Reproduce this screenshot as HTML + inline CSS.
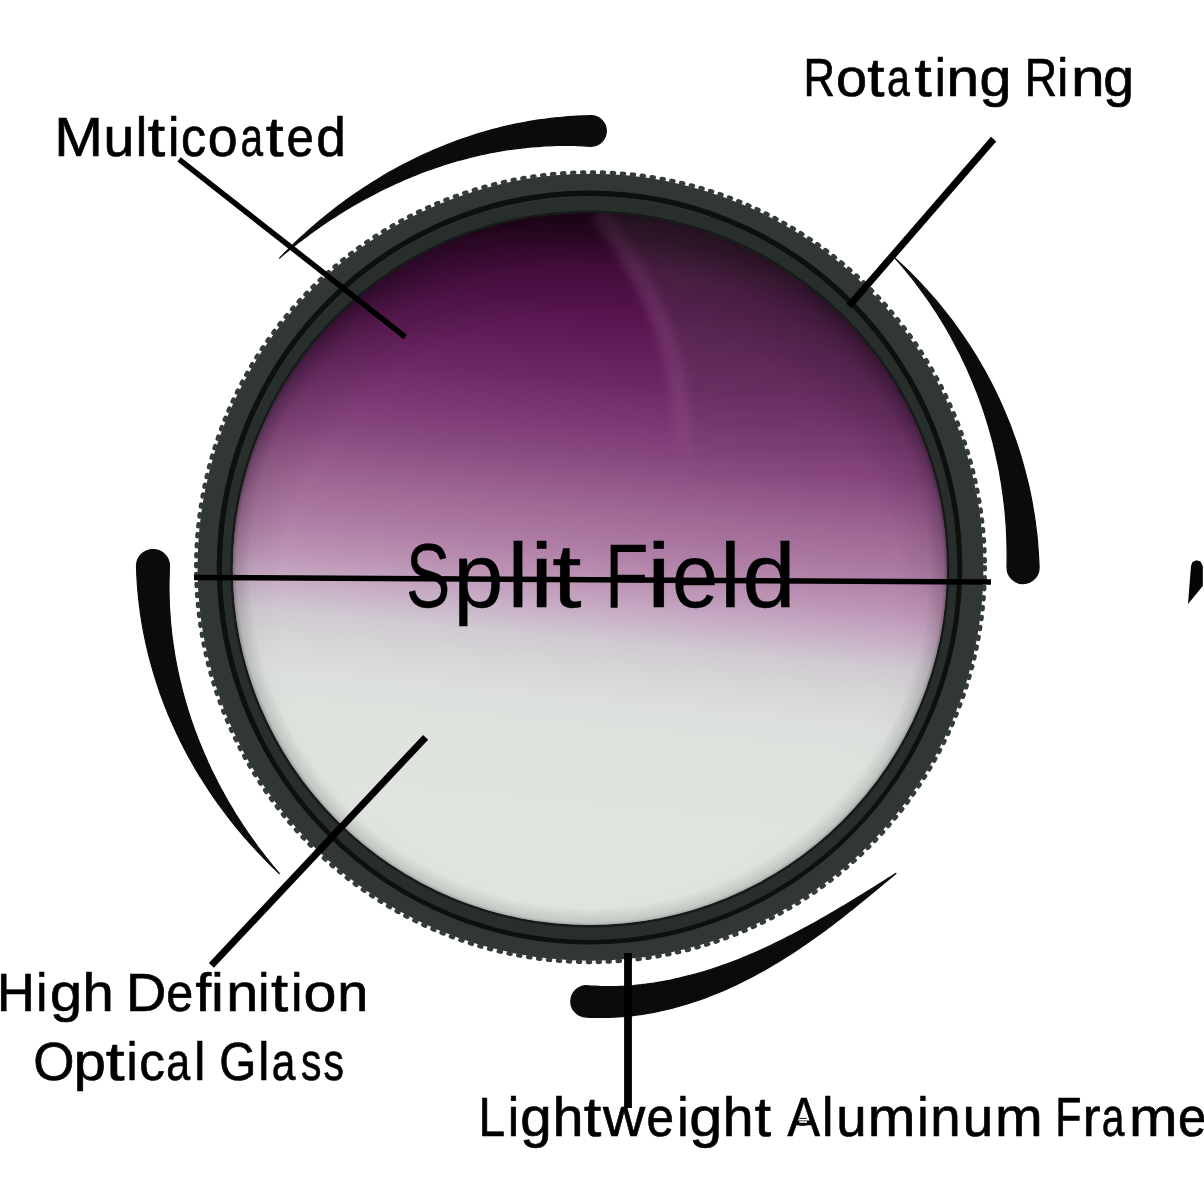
<!DOCTYPE html>
<html><head><meta charset="utf-8"><style>
html,body{margin:0;padding:0;background:#fff;}
body{width:1204px;height:1204px;overflow:hidden;position:relative;}
svg{position:absolute;left:0;top:0;will-change:transform;}
text{font-family:"Liberation Sans",sans-serif;fill:#000;stroke:#000;stroke-width:0.7px;}
text.big{stroke-width:0.3px;}
</style></head><body>
<svg width="1204" height="1204" viewBox="0 0 1204 1204">
<defs>
<linearGradient id="glass" x1="0" y1="212" x2="0" y2="925" gradientUnits="userSpaceOnUse" gradientTransform="rotate(5.4 590 568)">
<stop offset="0" stop-color="#2a0822"/>
<stop offset="0.03" stop-color="#340a2c"/>
<stop offset="0.06" stop-color="#440c3a"/>
<stop offset="0.1" stop-color="#4e1046"/>
<stop offset="0.125" stop-color="#52124a"/>
<stop offset="0.18" stop-color="#5e1c56"/>
<stop offset="0.237" stop-color="#6c2864"/>
<stop offset="0.335" stop-color="#86467e"/>
<stop offset="0.405" stop-color="#9c6492"/>
<stop offset="0.468" stop-color="#ae7ca4"/>
<stop offset="0.517" stop-color="#bc94b4"/>
<stop offset="0.552" stop-color="#c6aac4"/>
<stop offset="0.6" stop-color="#d0cad2"/>
<stop offset="0.64" stop-color="#d6d6d6"/>
<stop offset="0.685" stop-color="#dcdfdc"/>
<stop offset="0.74" stop-color="#dee3de"/>
<stop offset="1" stop-color="#e0e5e0"/>
</linearGradient>
<radialGradient id="vig" cx="589.8" cy="600" r="400" gradientUnits="userSpaceOnUse" gradientTransform="translate(589.8 600) scale(1 0.93) translate(-589.8 -600)">
<stop offset="0.78" stop-color="#000" stop-opacity="0"/>
<stop offset="0.9" stop-color="#000" stop-opacity="0.1"/>
<stop offset="0.99" stop-color="#000" stop-opacity="0.33"/>
</radialGradient>
<radialGradient id="vig2" cx="589.8" cy="569" r="357" gradientUnits="userSpaceOnUse">
<stop offset="0.95" stop-color="#000" stop-opacity="0"/>
<stop offset="0.99" stop-color="#000" stop-opacity="0.12"/>
<stop offset="1" stop-color="#000" stop-opacity="0.3"/>
</radialGradient>
<linearGradient id="vmg" x1="0" y1="212" x2="0" y2="925" gradientUnits="userSpaceOnUse">
<stop offset="0" stop-color="#fff"/>
<stop offset="0.45" stop-color="#fff"/>
<stop offset="0.62" stop-color="#444"/>
<stop offset="1" stop-color="#222"/>
</linearGradient>
<mask id="vmask" maskUnits="userSpaceOnUse" x="0" y="0" width="1204" height="1204"><rect x="0" y="0" width="1204" height="1204" fill="url(#vmg)"/></mask>
<clipPath id="gclip"><ellipse cx="589.8" cy="569" rx="357" ry="356"/></clipPath>
<linearGradient id="desat" x1="0" y1="205" x2="0" y2="480" gradientUnits="userSpaceOnUse">
<stop offset="0" stop-color="#5a4858" stop-opacity="0.4"/>
<stop offset="0.6" stop-color="#5a4858" stop-opacity="0.25"/>
<stop offset="1" stop-color="#5a4858" stop-opacity="0"/>
</linearGradient>
<linearGradient id="bandg" x1="0" y1="212" x2="0" y2="500" gradientUnits="userSpaceOnUse">
<stop offset="0" stop-color="#9a5a90" stop-opacity="0.3"/>
<stop offset="0.7" stop-color="#9a5a90" stop-opacity="0.25"/>
<stop offset="1" stop-color="#9a5a90" stop-opacity="0"/>
</linearGradient>
<filter id="b8" x="-20%" y="-20%" width="140%" height="140%"><feGaussianBlur stdDeviation="9"/></filter>
<filter id="b5" x="-20%" y="-20%" width="140%" height="140%"><feGaussianBlur stdDeviation="4"/></filter>
<filter id="b6" x="-20%" y="-20%" width="140%" height="140%"><feGaussianBlur stdDeviation="7"/></filter>
<filter id="b3" x="-20%" y="-20%" width="140%" height="140%"><feGaussianBlur stdDeviation="3"/></filter>
</defs>
<!-- ring -->
<ellipse cx="590.5" cy="567.2" rx="393" ry="393.5" fill="#303734"/>
<ellipse cx="590.5" cy="567.2" rx="394.3" ry="394.8" fill="none" stroke="#343b38" stroke-width="4.4" stroke-linecap="round" stroke-dasharray="2.2 7.8"/>
<ellipse cx="589.5" cy="567.5" rx="370" ry="374.3" fill="none" stroke="#0c100f" stroke-width="5.5"/>
<ellipse cx="589.8" cy="568.5" rx="367.5" ry="371.5" fill="#282e2b"/>
<ellipse cx="589.8" cy="569" rx="359.5" ry="358.5" fill="#161a18"/>
<ellipse cx="589.8" cy="569" rx="357" ry="356" fill="url(#glass)"/>
<g clip-path="url(#gclip)">
<path d="M600,205 C632,255 668,310 680,390 C690,450 688,520 690,560 L960,560 L960,205 Z" fill="url(#desat)" filter="url(#b8)"/>
<path d="M598,212 C630,256 666,312 678,390 C685,440 686,470 686,500" fill="none" stroke="url(#bandg)" stroke-width="18" filter="url(#b5)"/>
<g mask="url(#vmask)"><ellipse cx="589.8" cy="569" rx="357" ry="356" fill="url(#vig)"/></g>
<ellipse cx="589.8" cy="569" rx="357" ry="356" fill="url(#vig2)"/>
</g>
<!-- swooshes -->
<path d="M279.7,258.0 L282.7,254.8 L285.8,251.7 L288.9,248.6 L292.0,245.6 L295.2,242.5 L298.4,239.5 L301.6,236.5 L304.9,233.6 L308.1,230.6 L311.4,227.7 L314.7,224.9 L318.1,222.0 L321.5,219.2 L324.9,216.4 L328.3,213.7 L331.7,210.9 L335.2,208.2 L338.7,205.6 L342.3,202.9 L345.8,200.3 L349.4,197.8 L353.0,195.2 L356.6,192.7 L360.3,190.2 L364.0,187.8 L367.7,185.4 L371.4,183.0 L375.1,180.7 L378.9,178.4 L382.7,176.1 L386.5,173.8 L390.4,171.6 L394.3,169.5 L398.2,167.4 L402.1,165.3 L406.0,163.2 L410.0,161.2 L413.9,159.2 L417.9,157.3 L422.0,155.4 L426.0,153.5 L430.1,151.7 L434.2,149.9 L438.3,148.2 L442.4,146.5 L446.5,144.8 L450.7,143.2 L454.9,141.6 L459.1,140.1 L463.3,138.6 L467.5,137.2 L471.8,135.8 L476.0,134.4 L480.3,133.1 L484.6,131.8 L488.9,130.6 L493.2,129.4 L497.6,128.3 L501.9,127.2 L506.3,126.2 L510.7,125.2 L515.1,124.2 L519.5,123.3 L523.9,122.5 L528.3,121.7 L532.7,120.9 L537.2,120.2 L541.6,119.6 L546.1,119.0 L550.6,118.4 L555.0,117.9 L559.5,117.5 L564.0,117.0 L568.5,116.7 L573.0,116.4 L577.5,116.1 L582.0,115.9 L586.5,115.8 L591.0,115.7 A15.3,15.3 0 0 1 591.0,146.3 L586.8,146.1 L582.6,145.8 L578.3,145.7 L574.1,145.5 L569.9,145.4 L565.7,145.4 L561.4,145.4 L557.2,145.5 L553.0,145.6 L548.7,145.8 L544.5,146.0 L540.3,146.3 L536.1,146.6 L531.8,146.9 L527.6,147.3 L523.4,147.8 L519.2,148.3 L514.9,148.8 L510.7,149.4 L506.5,150.0 L502.3,150.7 L498.1,151.4 L493.9,152.2 L489.7,153.0 L485.6,153.8 L481.4,154.7 L477.2,155.7 L473.1,156.7 L468.9,157.7 L464.8,158.8 L460.7,159.9 L456.6,161.0 L452.5,162.2 L448.4,163.5 L444.3,164.8 L440.2,166.1 L436.2,167.5 L432.1,168.9 L428.1,170.3 L424.1,171.8 L420.0,173.3 L416.1,174.9 L412.1,176.5 L408.1,178.1 L404.2,179.8 L400.2,181.6 L396.3,183.3 L392.4,185.1 L388.5,186.9 L384.6,188.8 L380.7,190.7 L376.9,192.7 L373.1,194.7 L369.3,196.7 L365.5,198.7 L361.7,200.8 L357.9,202.9 L354.2,205.1 L350.4,207.3 L346.7,209.5 L343.0,211.8 L339.4,214.1 L335.7,216.4 L332.1,218.8 L328.4,221.1 L324.8,223.6 L321.2,226.0 L317.7,228.5 L314.1,231.0 L310.6,233.6 L307.1,236.2 L303.6,238.8 L300.1,241.4 L296.7,244.1 L293.2,246.8 L289.8,249.6 L286.4,252.3 L283.0,255.1 L279.7,258.0 Z" fill="#0b0b0b" stroke="#0b0b0b" stroke-width="1.2" stroke-linejoin="round"/>
<path d="M895.4,258.5 L898.6,261.4 L901.8,264.4 L905.0,267.4 L908.1,270.4 L911.2,273.5 L914.3,276.6 L917.3,279.7 L920.4,282.9 L923.3,286.1 L926.3,289.3 L929.2,292.6 L932.1,295.9 L935.0,299.2 L937.8,302.5 L940.6,305.9 L943.4,309.3 L946.1,312.8 L948.8,316.2 L951.5,319.7 L954.1,323.2 L956.7,326.8 L959.2,330.4 L961.8,334.0 L964.3,337.6 L966.7,341.3 L969.1,344.9 L971.5,348.6 L973.9,352.4 L976.2,356.1 L978.5,359.9 L980.7,363.7 L982.9,367.6 L985.1,371.4 L987.2,375.3 L989.3,379.2 L991.3,383.1 L993.3,387.1 L995.3,391.1 L997.2,395.0 L999.1,399.1 L1000.9,403.1 L1002.7,407.1 L1004.5,411.2 L1006.2,415.3 L1007.9,419.4 L1009.6,423.6 L1011.2,427.7 L1012.7,431.9 L1014.2,436.1 L1015.7,440.3 L1017.1,444.5 L1018.5,448.7 L1019.9,453.0 L1021.2,457.2 L1022.4,461.5 L1023.6,465.8 L1024.8,470.1 L1025.9,474.4 L1027.0,478.8 L1028.1,483.1 L1029.1,487.5 L1030.0,491.9 L1030.9,496.2 L1031.8,500.6 L1032.6,505.0 L1033.3,509.5 L1034.1,513.9 L1034.7,518.3 L1035.4,522.7 L1035.9,527.2 L1036.5,531.7 L1037.0,536.1 L1037.4,540.6 L1037.8,545.1 L1038.1,549.5 L1038.4,554.0 L1038.7,558.5 L1038.9,563.0 L1039.1,567.5 A16.0,16.0 0 0 1 1007.0,567.5 L1007.1,563.3 L1007.1,559.1 L1007.1,555.0 L1007.1,550.8 L1007.0,546.6 L1006.9,542.4 L1006.8,538.2 L1006.6,534.1 L1006.4,529.9 L1006.2,525.7 L1005.9,521.5 L1005.5,517.3 L1005.2,513.1 L1004.8,509.0 L1004.3,504.8 L1003.8,500.6 L1003.3,496.4 L1002.7,492.3 L1002.1,488.1 L1001.5,484.0 L1000.8,479.8 L1000.1,475.7 L999.4,471.5 L998.6,467.4 L997.7,463.2 L996.8,459.1 L995.9,455.0 L995.0,450.9 L994.0,446.8 L993.0,442.7 L991.9,438.6 L990.8,434.5 L989.6,430.4 L988.5,426.3 L987.2,422.3 L986.0,418.2 L984.7,414.2 L983.3,410.1 L981.9,406.1 L980.5,402.1 L979.1,398.1 L977.6,394.1 L976.0,390.2 L974.5,386.2 L972.8,382.3 L971.2,378.3 L969.5,374.4 L967.8,370.5 L966.0,366.6 L964.2,362.7 L962.3,358.9 L960.5,355.0 L958.5,351.2 L956.6,347.4 L954.6,343.6 L952.5,339.8 L950.5,336.0 L948.3,332.3 L946.2,328.5 L944.0,324.8 L941.8,321.2 L939.5,317.5 L937.2,313.8 L934.9,310.2 L932.5,306.6 L930.1,303.0 L927.6,299.5 L925.1,295.9 L922.6,292.4 L920.0,288.9 L917.4,285.4 L914.8,282.0 L912.1,278.5 L909.4,275.1 L906.7,271.8 L903.9,268.4 L901.1,265.1 L898.3,261.8 L895.4,258.5 Z" fill="#0b0b0b" stroke="#0b0b0b" stroke-width="1.2" stroke-linejoin="round"/>
<path d="M896.0,873.4 L892.6,876.2 L889.3,879.0 L886.0,881.8 L882.6,884.6 L879.3,887.3 L876.0,890.1 L872.6,892.9 L869.3,895.6 L866.0,898.3 L862.6,901.1 L859.2,903.8 L855.9,906.5 L852.5,909.2 L849.1,911.9 L845.7,914.6 L842.3,917.3 L838.8,919.9 L835.4,922.5 L831.9,925.2 L828.5,927.8 L825.0,930.4 L821.5,932.9 L817.9,935.5 L814.4,938.0 L810.8,940.6 L807.3,943.1 L803.7,945.6 L800.0,948.0 L796.4,950.4 L792.7,952.9 L789.0,955.2 L785.3,957.6 L781.6,959.9 L777.8,962.2 L774.0,964.5 L770.2,966.8 L766.4,969.0 L762.5,971.2 L758.6,973.3 L754.7,975.4 L750.8,977.5 L746.8,979.5 L742.8,981.5 L738.8,983.5 L734.8,985.4 L730.7,987.3 L726.7,989.1 L722.6,990.9 L718.4,992.6 L714.3,994.3 L710.1,996.0 L705.9,997.6 L701.7,999.1 L697.4,1000.6 L693.2,1002.0 L688.9,1003.4 L684.6,1004.7 L680.2,1006.0 L675.9,1007.2 L671.5,1008.4 L667.1,1009.4 L662.7,1010.5 L658.3,1011.4 L653.9,1012.3 L649.4,1013.1 L645.0,1013.9 L640.5,1014.6 L636.0,1015.2 L631.5,1015.8 L627.0,1016.2 L622.5,1016.6 L618.0,1017.0 L613.5,1017.2 L609.0,1017.4 L604.4,1017.5 L599.9,1017.5 L595.4,1017.5 L590.9,1017.3 L586.4,1017.1 A15.7,15.7 0 0 1 586.6,985.7 L590.8,986.0 L595.1,986.2 L599.3,986.4 L603.5,986.5 L607.7,986.6 L611.9,986.5 L616.1,986.5 L620.4,986.3 L624.6,986.1 L628.8,985.8 L633.0,985.5 L637.2,985.1 L641.4,984.7 L645.6,984.2 L649.8,983.6 L654.0,983.0 L658.1,982.3 L662.3,981.6 L666.5,980.8 L670.6,980.0 L674.7,979.1 L678.9,978.2 L683.0,977.2 L687.1,976.2 L691.1,975.2 L695.2,974.0 L699.3,972.9 L703.3,971.7 L707.3,970.5 L711.4,969.2 L715.4,967.9 L719.4,966.5 L723.3,965.1 L727.3,963.7 L731.2,962.2 L735.2,960.7 L739.1,959.2 L743.0,957.6 L746.9,956.0 L750.8,954.3 L754.6,952.7 L758.5,951.0 L762.3,949.2 L766.1,947.5 L770.0,945.7 L773.8,943.9 L777.5,942.1 L781.3,940.2 L785.1,938.3 L788.8,936.4 L792.6,934.5 L796.3,932.5 L800.0,930.6 L803.8,928.6 L807.5,926.6 L811.2,924.5 L814.9,922.5 L818.5,920.4 L822.2,918.3 L825.9,916.2 L829.6,914.1 L833.2,911.9 L836.9,909.8 L840.6,907.6 L844.2,905.4 L847.9,903.2 L851.6,901.0 L855.2,898.8 L858.9,896.5 L862.6,894.3 L866.2,892.0 L869.9,889.7 L873.6,887.4 L877.3,885.1 L881.0,882.8 L884.7,880.4 L888.4,878.1 L892.2,875.7 L895.9,873.3 Z" fill="#0b0b0b" stroke="#0b0b0b" stroke-width="1.2" stroke-linejoin="round"/>
<path d="M279.3,873.5 L276.2,870.5 L273.1,867.5 L270.0,864.5 L266.9,861.4 L263.9,858.4 L260.9,855.2 L257.9,852.1 L255.0,848.9 L252.1,845.7 L249.2,842.5 L246.3,839.2 L243.5,836.0 L240.7,832.7 L237.9,829.3 L235.1,826.0 L232.4,822.6 L229.7,819.2 L227.0,815.7 L224.4,812.2 L221.8,808.7 L219.2,805.2 L216.7,801.7 L214.2,798.1 L211.7,794.5 L209.3,790.9 L206.9,787.2 L204.5,783.5 L202.2,779.8 L199.8,776.1 L197.6,772.4 L195.3,768.6 L193.1,764.8 L191.0,761.0 L188.8,757.1 L186.7,753.3 L184.7,749.4 L182.7,745.5 L180.7,741.5 L178.8,737.6 L176.8,733.6 L175.0,729.6 L173.2,725.6 L171.4,721.5 L169.6,717.5 L167.9,713.4 L166.3,709.3 L164.6,705.2 L163.1,701.0 L161.5,696.9 L160.0,692.7 L158.6,688.5 L157.2,684.3 L155.8,680.1 L154.5,675.8 L153.2,671.6 L152.0,667.3 L150.8,663.0 L149.6,658.7 L148.5,654.4 L147.5,650.1 L146.5,645.7 L145.5,641.4 L144.6,637.0 L143.7,632.6 L142.9,628.2 L142.1,623.8 L141.4,619.4 L140.7,615.0 L140.1,610.6 L139.5,606.1 L139.0,601.7 L138.5,597.2 L138.1,592.8 L137.7,588.3 L137.3,583.9 L137.1,579.4 L136.8,574.9 L136.6,570.4 L136.5,565.9 A16.5,16.5 0 0 1 169.5,566.1 L169.3,570.2 L169.2,574.4 L169.1,578.5 L169.0,582.7 L169.0,586.9 L169.0,591.1 L169.1,595.2 L169.2,599.4 L169.3,603.6 L169.5,607.8 L169.8,611.9 L170.1,616.1 L170.4,620.3 L170.7,624.5 L171.2,628.6 L171.6,632.8 L172.1,637.0 L172.7,641.1 L173.2,645.3 L173.9,649.4 L174.5,653.6 L175.2,657.7 L176.0,661.8 L176.8,666.0 L177.6,670.1 L178.5,674.2 L179.4,678.3 L180.4,682.4 L181.4,686.5 L182.4,690.6 L183.5,694.7 L184.6,698.7 L185.8,702.8 L187.0,706.8 L188.2,710.8 L189.5,714.9 L190.8,718.9 L192.2,722.9 L193.6,726.9 L195.0,730.9 L196.5,734.8 L198.0,738.8 L199.6,742.7 L201.2,746.6 L202.8,750.5 L204.5,754.4 L206.2,758.3 L207.9,762.2 L209.7,766.0 L211.5,769.9 L213.4,773.7 L215.3,777.5 L217.2,781.3 L219.1,785.1 L221.1,788.8 L223.2,792.6 L225.2,796.3 L227.3,800.0 L229.5,803.7 L231.7,807.4 L233.9,811.0 L236.1,814.7 L238.4,818.3 L240.7,821.9 L243.0,825.5 L245.4,829.0 L247.8,832.6 L250.3,836.1 L252.8,839.6 L255.3,843.1 L257.8,846.6 L260.4,850.0 L263.0,853.4 L265.6,856.8 L268.3,860.2 L271.0,863.6 L273.7,866.9 L276.5,870.2 L279.3,873.5 Z" fill="#0b0b0b" stroke="#0b0b0b" stroke-width="1.2" stroke-linejoin="round"/>
<path d="M1191,566 L1192.5,562 L1196.5,560.3 L1200.5,561.5 L1202.8,566 L1202.8,586 L1188,604 L1189.5,585 Z" fill="#050505"/>
<!-- callout lines -->
<g stroke="#000" stroke-width="5.5" fill="none">
<line x1="179.1" y1="159.3" x2="405.3" y2="337"/>
<line x1="993.6" y1="139.1" x2="849" y2="306" stroke-width="7"/>
<line x1="194" y1="577.5" x2="991" y2="582"/>
<line x1="425.6" y1="737.3" x2="211.4" y2="965.4" stroke-width="7"/>
<line x1="628" y1="953" x2="628" y2="1108" stroke-width="7.8"/>
</g>
<!-- text -->
<text x="54.31" y="155.80" font-size="56.00" textLength="48.69" lengthAdjust="spacingAndGlyphs">M</text>
<text x="103.51" y="155.80" font-size="56.00" textLength="30.77" lengthAdjust="spacingAndGlyphs">u</text>
<text x="135.87" y="155.80" font-size="56.00" textLength="11.43" lengthAdjust="spacingAndGlyphs">l</text>
<text x="147.85" y="155.80" font-size="56.00" textLength="17.41" lengthAdjust="spacingAndGlyphs">t</text>
<text x="168.10" y="155.80" font-size="56.00" textLength="11.43" lengthAdjust="spacingAndGlyphs">i</text>
<text x="180.97" y="155.80" font-size="56.00" textLength="25.05" lengthAdjust="spacingAndGlyphs">c</text>
<text x="207.74" y="155.80" font-size="56.00" textLength="29.92" lengthAdjust="spacingAndGlyphs">o</text>
<text x="240.48" y="155.80" font-size="56.00" textLength="22.52" lengthAdjust="spacingAndGlyphs">a</text>
<text x="265.83" y="155.80" font-size="56.00" textLength="17.84" lengthAdjust="spacingAndGlyphs">t</text>
<text x="286.41" y="155.80" font-size="56.00" textLength="27.38" lengthAdjust="spacingAndGlyphs">e</text>
<text x="316.17" y="155.80" font-size="56.00" textLength="29.56" lengthAdjust="spacingAndGlyphs">d</text>
<text x="803.44" y="95.80" font-size="54.00" textLength="31.38" lengthAdjust="spacingAndGlyphs">R</text>
<text x="835.95" y="95.80" font-size="54.00" textLength="31.10" lengthAdjust="spacingAndGlyphs">o</text>
<text x="867.26" y="95.80" font-size="54.00" textLength="17.19" lengthAdjust="spacingAndGlyphs">t</text>
<text x="887.06" y="95.80" font-size="54.00" textLength="22.84" lengthAdjust="spacingAndGlyphs">a</text>
<text x="914.46" y="95.80" font-size="54.00" textLength="17.19" lengthAdjust="spacingAndGlyphs">t</text>
<text x="934.70" y="95.80" font-size="54.00" textLength="11.02" lengthAdjust="spacingAndGlyphs">i</text>
<text x="946.51" y="95.80" font-size="54.00" textLength="32.60" lengthAdjust="spacingAndGlyphs">n</text>
<text x="979.49" y="95.80" font-size="54.00" textLength="31.91" lengthAdjust="spacingAndGlyphs">g</text>
<text x="1024.73" y="95.80" font-size="54.00" textLength="32.35" lengthAdjust="spacingAndGlyphs">R</text>
<text x="1057.25" y="95.80" font-size="54.00" textLength="11.02" lengthAdjust="spacingAndGlyphs">i</text>
<text x="1070.98" y="95.80" font-size="54.00" textLength="33.65" lengthAdjust="spacingAndGlyphs">n</text>
<text x="1103.37" y="95.80" font-size="54.00" textLength="30.79" lengthAdjust="spacingAndGlyphs">g</text>
<text class="big" x="406.09" y="606.60" font-size="91.00" textLength="44.26" lengthAdjust="spacingAndGlyphs">S</text>
<text class="big" x="453.17" y="606.60" font-size="91.00" textLength="50.33" lengthAdjust="spacingAndGlyphs">p</text>
<text class="big" x="507.44" y="606.60" font-size="91.00" textLength="20.98" lengthAdjust="spacingAndGlyphs">l</text>
<text class="big" x="530.00" y="606.60" font-size="91.00" textLength="23.26" lengthAdjust="spacingAndGlyphs">i</text>
<text class="big" x="552.08" y="606.60" font-size="91.00" textLength="29.70" lengthAdjust="spacingAndGlyphs">t</text>
<text class="big" x="604.94" y="606.60" font-size="91.00" textLength="43.62" lengthAdjust="spacingAndGlyphs">F</text>
<text class="big" x="646.39" y="606.60" font-size="91.00" textLength="25.28" lengthAdjust="spacingAndGlyphs">i</text>
<text class="big" x="672.07" y="606.60" font-size="91.00" textLength="46.22" lengthAdjust="spacingAndGlyphs">e</text>
<text class="big" x="719.76" y="606.60" font-size="91.00" textLength="21.23" lengthAdjust="spacingAndGlyphs">l</text>
<text class="big" x="742.17" y="606.60" font-size="91.00" textLength="53.43" lengthAdjust="spacingAndGlyphs">d</text>
<text x="-3.09" y="1010.60" font-size="54.50" textLength="37.75" lengthAdjust="spacingAndGlyphs">H</text>
<text x="36.30" y="1010.60" font-size="54.50" textLength="11.12" lengthAdjust="spacingAndGlyphs">i</text>
<text x="50.07" y="1010.60" font-size="54.50" textLength="32.15" lengthAdjust="spacingAndGlyphs">g</text>
<text x="82.50" y="1010.60" font-size="54.50" textLength="31.24" lengthAdjust="spacingAndGlyphs">h</text>
<text x="126.02" y="1010.60" font-size="54.50" textLength="40.36" lengthAdjust="spacingAndGlyphs">D</text>
<text x="166.24" y="1010.60" font-size="54.50" textLength="26.90" lengthAdjust="spacingAndGlyphs">e</text>
<text x="195.40" y="1010.60" font-size="54.50" textLength="28.20" lengthAdjust="spacingAndGlyphs">ﬁ</text>
<text x="226.39" y="1010.60" font-size="54.50" textLength="31.94" lengthAdjust="spacingAndGlyphs">n</text>
<text x="258.25" y="1010.60" font-size="54.50" textLength="11.12" lengthAdjust="spacingAndGlyphs">i</text>
<text x="271.06" y="1010.60" font-size="54.50" textLength="17.19" lengthAdjust="spacingAndGlyphs">t</text>
<text x="291.35" y="1010.60" font-size="54.50" textLength="11.12" lengthAdjust="spacingAndGlyphs">i</text>
<text x="303.51" y="1010.60" font-size="54.50" textLength="32.98" lengthAdjust="spacingAndGlyphs">o</text>
<text x="337.20" y="1010.60" font-size="54.50" textLength="31.03" lengthAdjust="spacingAndGlyphs">n</text>
<text x="33.19" y="1080.00" font-size="54.50" textLength="41.25" lengthAdjust="spacingAndGlyphs">O</text>
<text x="73.77" y="1080.00" font-size="54.50" textLength="32.15" lengthAdjust="spacingAndGlyphs">p</text>
<text x="105.67" y="1080.00" font-size="54.50" textLength="18.82" lengthAdjust="spacingAndGlyphs">t</text>
<text x="126.40" y="1080.00" font-size="54.50" textLength="11.12" lengthAdjust="spacingAndGlyphs">i</text>
<text x="139.22" y="1080.00" font-size="54.50" textLength="25.63" lengthAdjust="spacingAndGlyphs">c</text>
<text x="166.37" y="1080.00" font-size="54.50" textLength="23.93" lengthAdjust="spacingAndGlyphs">a</text>
<text x="194.18" y="1080.00" font-size="54.50" textLength="11.12" lengthAdjust="spacingAndGlyphs">l</text>
<text x="219.30" y="1080.00" font-size="54.50" textLength="37.05" lengthAdjust="spacingAndGlyphs">G</text>
<text x="258.18" y="1080.00" font-size="54.50" textLength="11.12" lengthAdjust="spacingAndGlyphs">l</text>
<text x="271.70" y="1080.00" font-size="54.50" textLength="23.60" lengthAdjust="spacingAndGlyphs">a</text>
<text x="300.96" y="1080.00" font-size="54.50" textLength="20.41" lengthAdjust="spacingAndGlyphs">s</text>
<text x="323.56" y="1080.00" font-size="54.50" textLength="20.41" lengthAdjust="spacingAndGlyphs">s</text>
<text x="478.47" y="1136.20" font-size="56.00" textLength="26.61" lengthAdjust="spacingAndGlyphs">L</text>
<text x="507.70" y="1136.20" font-size="56.00" textLength="11.43" lengthAdjust="spacingAndGlyphs">i</text>
<text x="520.23" y="1136.20" font-size="56.00" textLength="31.41" lengthAdjust="spacingAndGlyphs">g</text>
<text x="552.69" y="1136.20" font-size="56.00" textLength="30.58" lengthAdjust="spacingAndGlyphs">h</text>
<text x="583.85" y="1136.20" font-size="56.00" textLength="17.52" lengthAdjust="spacingAndGlyphs">t</text>
<text x="602.99" y="1136.20" font-size="56.00" textLength="42.17" lengthAdjust="spacingAndGlyphs">w</text>
<text x="646.50" y="1136.20" font-size="56.00" textLength="27.50" lengthAdjust="spacingAndGlyphs">e</text>
<text x="677.35" y="1136.20" font-size="56.00" textLength="11.43" lengthAdjust="spacingAndGlyphs">i</text>
<text x="689.21" y="1136.20" font-size="56.00" textLength="33.02" lengthAdjust="spacingAndGlyphs">g</text>
<text x="722.77" y="1136.20" font-size="56.00" textLength="30.72" lengthAdjust="spacingAndGlyphs">h</text>
<text x="754.81" y="1136.20" font-size="56.00" textLength="16.32" lengthAdjust="spacingAndGlyphs">t</text>
<text x="787.40" y="1136.20" font-size="56.00" textLength="32.49" lengthAdjust="spacingAndGlyphs">A</text>
<text x="821.92" y="1136.20" font-size="56.00" textLength="11.43" lengthAdjust="spacingAndGlyphs">l</text>
<text x="836.15" y="1136.20" font-size="56.00" textLength="30.37" lengthAdjust="spacingAndGlyphs">u</text>
<text x="867.70" y="1136.20" font-size="56.00" textLength="47.67" lengthAdjust="spacingAndGlyphs">m</text>
<text x="917.25" y="1136.20" font-size="56.00" textLength="11.43" lengthAdjust="spacingAndGlyphs">i</text>
<text x="930.17" y="1136.20" font-size="56.00" textLength="30.37" lengthAdjust="spacingAndGlyphs">n</text>
<text x="962.75" y="1136.20" font-size="56.00" textLength="30.37" lengthAdjust="spacingAndGlyphs">u</text>
<text x="995.00" y="1136.20" font-size="56.00" textLength="47.67" lengthAdjust="spacingAndGlyphs">m</text>
<text x="1055.18" y="1136.20" font-size="56.00" textLength="26.24" lengthAdjust="spacingAndGlyphs">F</text>
<text x="1082.67" y="1136.20" font-size="56.00" textLength="17.72" lengthAdjust="spacingAndGlyphs">r</text>
<text x="1101.77" y="1136.20" font-size="56.00" textLength="22.63" lengthAdjust="spacingAndGlyphs">a</text>
<text x="1129.03" y="1136.20" font-size="56.00" textLength="48.51" lengthAdjust="spacingAndGlyphs">m</text>
<text x="1178.04" y="1136.20" font-size="56.00" textLength="28.33" lengthAdjust="spacingAndGlyphs">e</text>
<g stroke-width="1"><line x1="799.3" y1="1118.4" x2="806.6" y2="1118.4" stroke="#111"/><line x1="799.3" y1="1122" x2="807" y2="1122" stroke="#fff" stroke-width="1.6"/><line x1="799.3" y1="1125.3" x2="806.6" y2="1125.3" stroke="#111"/></g>
</svg>
</body></html>
